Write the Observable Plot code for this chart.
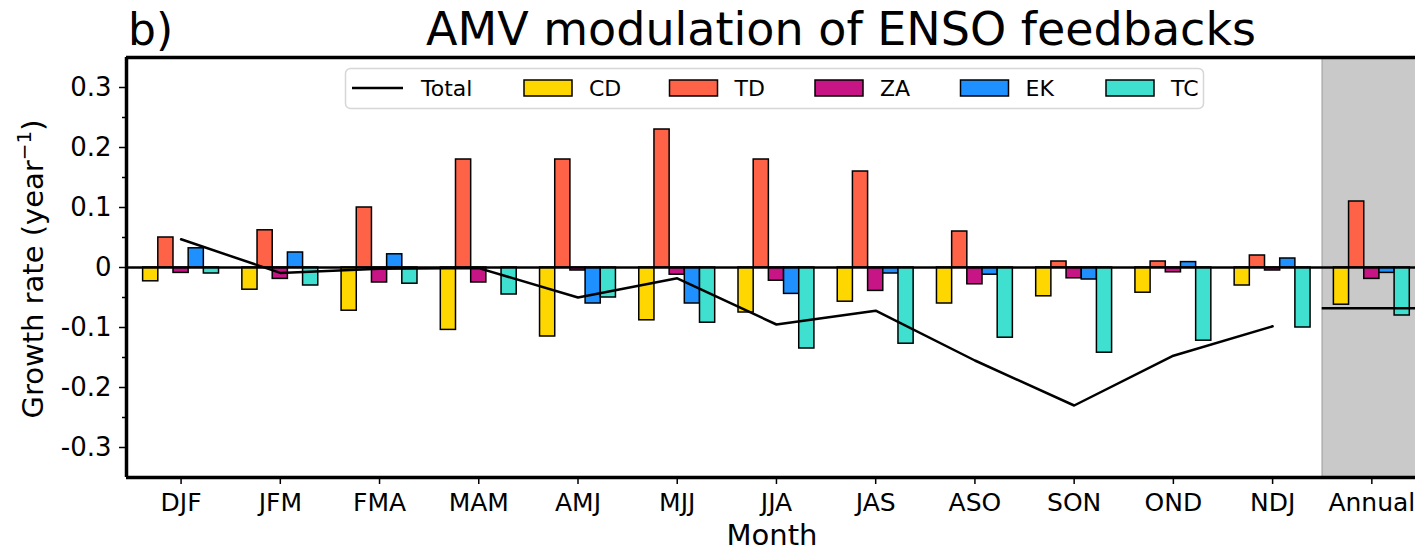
<!DOCTYPE html>
<html><head><meta charset="utf-8">
<script src="https://cdn.jsdelivr.net/npm/d3@7"></script>
<script src="https://cdn.jsdelivr.net/npm/@observablehq/plot@0.6"></script>
<style>
body{margin:0;background:#fff;}
#chart{position:relative;width:1415px;height:552px;overflow:hidden;}
</style>
</head><body><div id="chart"></div>
<script>
// ---- data ----
const months = ["DJF","JFM","FMA","MAM","AMJ","MJJ","JJA","JAS","ASO","SON","OND","NDJ","Annual"];
const seriesNames = ["CD","TD","ZA","EK","TC"];
const seriesColors = ["#FFD700","#FF6347","#C71585","#1E90FF","#40E0D0"];
const CD = [-0.023,-0.037,-0.072,-0.104,-0.115,-0.088,-0.075,-0.057,-0.060,-0.048,-0.042,-0.030,-0.062];
const TD = [0.050,0.062,0.100,0.180,0.180,0.230,0.180,0.160,0.060,0.010,0.010,0.020,0.110];
const ZA = [-0.009,-0.019,-0.025,-0.025,-0.005,-0.012,-0.022,-0.039,-0.028,-0.018,-0.008,-0.005,-0.019];
const EK = [0.032,0.025,0.022,0.000,-0.060,-0.060,-0.044,-0.010,-0.012,-0.020,0.009,0.015,-0.009];
const TC = [-0.010,-0.030,-0.027,-0.045,-0.050,-0.092,-0.135,-0.127,-0.117,-0.142,-0.122,-0.100,-0.080];
const totalMonthly = [0.047,-0.009,-0.002,-0.001,-0.050,-0.018,-0.095,-0.072,-0.155,-0.230,-0.147,-0.098];
const totalAnnual = -0.068;
const yTicks = [-0.3,-0.2,-0.1,0,0.1,0.2,0.3];
const yMinorTicks = [-0.25,-0.15,-0.05,0.05,0.15,0.25];

// ---- layout constants ----
const W = 1415, H = 552;
const xDomain = [-0.55, 12.44];
const yDomain = [-0.35, 0.35];
const barW = 0.153;
const annualStart = 11.5;
const FONT = "DejaVu Sans";

const series = {CD, TD, ZA, EK, TC};
const bars = seriesNames.flatMap((name, k) =>
  series[name].map((v, i) => ({
    name, value: v,
    x1: i + (k - 2) * barW - barW / 2,
    x2: i + (k - 2) * barW + barW / 2
  })));
const lineData = totalMonthly.map((v, i) => ({i, v}));

const svg = Plot.plot({
  width: W, height: H,
  marginTop: 57, marginBottom: 75, marginLeft: 126, marginRight: 0,
  style: {fontFamily: FONT, fontSize: "26px", color: "black", background: "white", overflow: "visible"},
  x: {domain: xDomain},
  y: {domain: yDomain},
  color: {domain: seriesNames, range: seriesColors},
  marks: [
    Plot.rect([0], {x1: annualStart, x2: xDomain[1], y1: yDomain[0], y2: yDomain[1], fill: "#c9c9c9"}),
    Plot.ruleX([annualStart], {stroke: "#b0b0b0", strokeWidth: 1.5}),
    Plot.rect(bars, {x1: "x1", x2: "x2", y1: () => 0, y2: "value", fill: "name", stroke: "black", strokeWidth: 1.5}),
    Plot.ruleY([0], {stroke: "black", strokeWidth: 2.5}),
    Plot.line(lineData, {x: "i", y: "v", stroke: "black", strokeWidth: 2.5}),
    Plot.ruleY([totalAnnual], {x1: annualStart, x2: xDomain[1], stroke: "black", strokeWidth: 2.5}),
    Plot.axisY({ticks: yTicks, tickFormat: d => d === 0 ? "0" : d.toFixed(1), tickSize: 7, tickPadding: 8, strokeWidth: 1.5, fontSize: 26, label: null}),
    Plot.axisY({ticks: yMinorTicks, tickFormat: null, text: null, tickSize: 4, strokeWidth: 1.5, label: null}),
    Plot.axisX({ticks: d3.range(months.length), tickFormat: i => months[i], tickSize: 7, tickPadding: 9, strokeWidth: 1.5, fontSize: 25, label: null}),
    Plot.ruleX([xDomain[0]], {stroke: "black", strokeWidth: 3.5}),
    Plot.ruleY([yDomain[0]], {stroke: "black", strokeWidth: 3.5}),
    Plot.ruleY([yDomain[1]], {stroke: "black", strokeWidth: 3.5})
  ]
});

const s = d3.select(svg);
// titles
s.append("text").attr("x", 128).attr("y", 45).attr("text-anchor", "start").attr("font-size", 44).attr("font-family", FONT).attr("fill", "black").text("b)");
s.append("text").attr("x", 841).attr("y", 45).attr("text-anchor", "middle").attr("font-size", 46).attr("font-family", FONT).attr("fill", "black").text("AMV modulation of ENSO feedbacks");
// axis labels
s.append("text").attr("x", 772).attr("y", 545).attr("text-anchor", "middle").attr("font-size", 29).attr("font-family", FONT).attr("fill", "black").text("Month");
const yl = s.append("text").attr("transform", "translate(43,269) rotate(-90)").attr("text-anchor", "middle").attr("font-size", 29).attr("font-family", FONT).attr("fill", "black");
yl.append("tspan").text("Growth rate (year");
yl.append("tspan").attr("font-size", 20).attr("dy", -12).text("\u22121");
yl.append("tspan").attr("dy", 12).text(")");

// legend
const lg = s.append("g").attr("font-family", FONT).attr("font-size", 22).attr("text-anchor", "start");
lg.append("rect").attr("x", 345.5).attr("y", 68.5).attr("width", 858).attr("height", 40).attr("rx", 5)
  .attr("fill", "white").attr("fill-opacity", 0.85).attr("stroke", "#d6d6d6").attr("stroke-width", 1.5);
lg.append("line").attr("x1", 352).attr("x2", 403).attr("y1", 88).attr("y2", 88).attr("stroke", "black").attr("stroke-width", 2.5);
lg.append("text").attr("x", 421).attr("y", 96).attr("fill", "black").text("Total");
seriesNames.forEach((n, k) => {
  const x0 = 524 + k * 145.5;
  lg.append("rect").attr("x", x0).attr("y", 80).attr("width", 48).attr("height", 16)
    .attr("fill", seriesColors[k]).attr("stroke", "black").attr("stroke-width", 1.5);
  lg.append("text").attr("x", x0 + 65).attr("y", 96).attr("fill", "black").text(n);
});

document.getElementById("chart").appendChild(svg);
</script>
</body></html>
